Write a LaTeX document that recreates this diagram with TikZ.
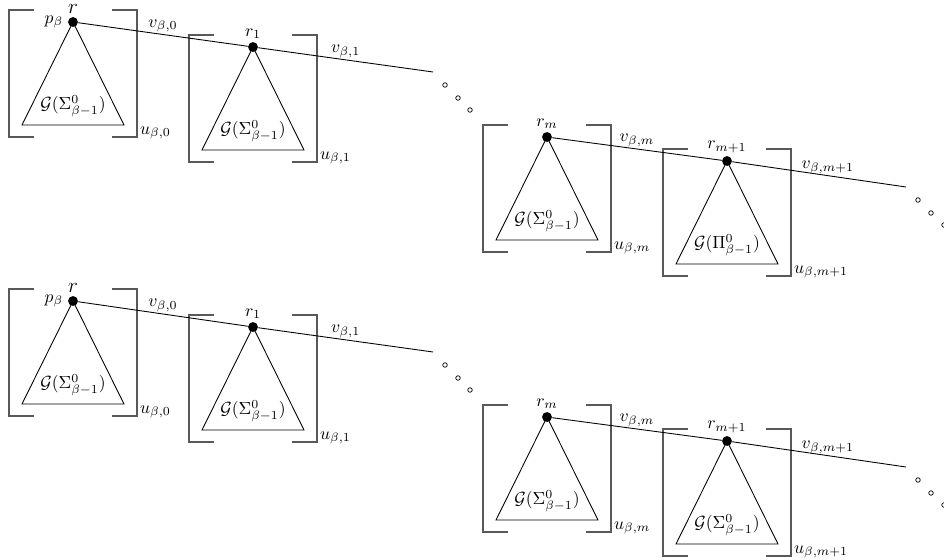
\documentclass[tikz,border=0pt]{standalone}
\usetikzlibrary{positioning}

% un bloc : crochets, arbre et racine
\newcommand{\bloc}[5]{%
  \begin{scope}[shift={(#2)}]
    \draw[crochet] (-39,-12) -- (-64,-12) -- (-64,115) -- (-39,115);
    \draw[crochet] (39,-12) -- (64,-12) -- (64,115) -- (39,115);
    \draw[arbre] (0,0) -- (-51,103) -- (51,103) -- cycle;
    \node[racine] (#1) at (0,0) {};
    \node[etiq, above=0.5pt of #1] (#1-r) {#3};
    \node[etiq] (#1-g) at (0,84) {$\mathcal{G}(#4)$};
    \node[etiq, anchor=west] (#1-u) at (65,111) {$#5$};
  \end{scope}}

\begin{document}
\begin{tikzpicture}[x=0.02cm, y=-0.02cm]
	\tikzset{racine/.style={circle, fill=black, inner sep=0pt, minimum size=5.6pt},
		pointille/.style={circle, draw=black, inner sep=0pt, minimum size=2.6pt, line width=0.4pt},
		crochet/.style={draw=black!65, line width=0.8pt},
		arbre/.style={line width=0.5pt},
		lien/.style={line width=0.5pt},
		etiq/.style={inner sep=1pt}};

	\useasboundingbox (0,0) rectangle (944,560);

	% premier graphe
	\bloc{a1}{73,22}{\large$r$}{\Sigma^0_{\beta-1}}{u_{\beta,0}}
	\bloc{b1}{253,47}{$r_1$}{\Sigma^0_{\beta-1}}{u_{\beta,1}}
	\bloc{m1}{547,137}{$r_m$}{\Sigma^0_{\beta-1}}{u_{\beta,m}}
	\bloc{n1}{727,161}{$r_{m+1}$}{\Pi^0_{\beta-1}}{u_{\beta,m+1}}
	\node[etiq, left=1.5pt of a1] (p1) {$p_\beta$};

	\coordinate (f1) at (433,72);
	\coordinate (g1) at (906,187);
	\draw[lien] (a1) -- node[etiq, above] {$v_{\beta,0}$} (b1) -- node[etiq, above] {$v_{\beta,1}$} (f1);
	\draw[lien] (m1) -- node[etiq, above] {$v_{\beta,m}$} (n1) -- node[etiq, above, pos=0.55] {$v_{\beta,m+1}$} (g1);

	\node[pointille] (f1-1) at (445,85) {};
	\node[pointille] (f1-2) at (458,98) {};
	\node[pointille] (f1-3) at (470,110) {};
	\node[pointille] (g1-1) at (918,200) {};
	\node[pointille] (g1-2) at (931,213) {};
	\node[pointille] (g1-3) at (944,225) {};

	% second graphe
	\bloc{a2}{73,301}{\large$r$}{\Sigma^0_{\beta-1}}{u_{\beta,0}}
	\bloc{b2}{253,327}{$r_1$}{\Sigma^0_{\beta-1}}{u_{\beta,1}}
	\bloc{m2}{547,417}{$r_m$}{\Sigma^0_{\beta-1}}{u_{\beta,m}}
	\bloc{n2}{727,441}{$r_{m+1}$}{\Sigma^0_{\beta-1}}{u_{\beta,m+1}}
	\node[etiq, left=1.5pt of a2] (p2) {$p_\beta$};

	\coordinate (f2) at (433,352);
	\coordinate (g2) at (906,467);
	\draw[lien] (a2) -- node[etiq, above] {$v_{\beta,0}$} (b2) -- node[etiq, above] {$v_{\beta,1}$} (f2);
	\draw[lien] (m2) -- node[etiq, above] {$v_{\beta,m}$} (n2) -- node[etiq, above, pos=0.55] {$v_{\beta,m+1}$} (g2);

	\node[pointille] (f2-1) at (445,365) {};
	\node[pointille] (f2-2) at (458,378) {};
	\node[pointille] (f2-3) at (470,390) {};
	\node[pointille] (g2-1) at (918,480) {};
	\node[pointille] (g2-2) at (931,493) {};
	\node[pointille] (g2-3) at (944,505) {};

\end{tikzpicture}
\end{document}
